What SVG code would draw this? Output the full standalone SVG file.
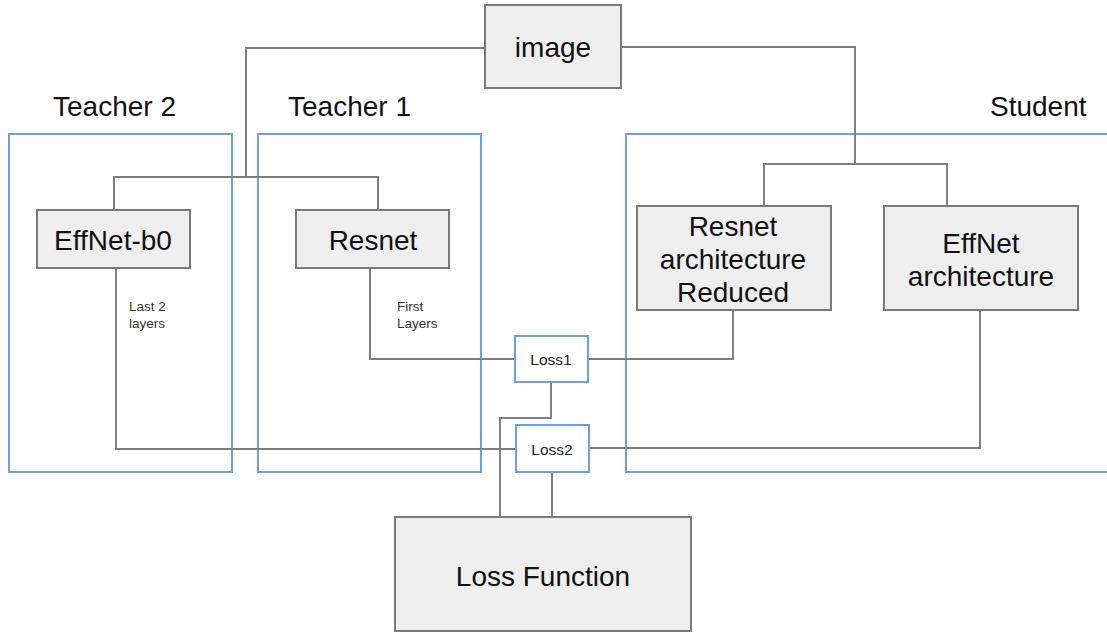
<svg xmlns="http://www.w3.org/2000/svg" width="1107" height="635" viewBox="0 0 1107 635">
<style>
.box{fill:#eeeeee;stroke:#7a7a7a;stroke-width:2}
.grp{fill:none;stroke:#6d9eeb;stroke-width:2}
.loss{fill:#ffffff;stroke:#6d9eeb;stroke-width:2}
.ln{fill:none;stroke:#7f7f7f;stroke-width:2}
text{font-family:"Liberation Sans",Arial,sans-serif;fill:#111}
.big{font-size:28px;text-anchor:middle}
.title{font-size:28px}
.sm{font-size:15.5px;fill:#222}
.tiny{font-size:13.5px;fill:#333}
</style>
<rect width="1107" height="635" fill="#ffffff"/>
<g id="groups">
<rect class="grp" x="9" y="134" width="223" height="338"/>
<rect class="grp" x="258" y="134" width="223" height="338"/>
<rect class="grp" x="626" y="134" width="490" height="338"/>
<text class="title" x="53" y="116">Teacher 2</text>
<text class="title" x="288" y="116">Teacher 1</text>
<text class="title" x="990" y="116">Student</text>
</g>
<g id="connectors">
<polyline class="ln" points="485,48 246,48 246,177"/>
<polyline class="ln" points="114,210 114,177 378,177 378,210"/>
<polyline class="ln" points="621,47 855,47 855,164"/>
<polyline class="ln" points="764,206 764,164 947,164 947,206"/>
<polyline class="ln" points="116,268 116,449 516,449"/>
<polyline class="ln" points="370,268 370,359 515,359"/>
<polyline class="ln" points="733,310 733,359 588,359"/>
<polyline class="ln" points="980,310 980,448 589,448"/>
<polyline class="ln" points="551,382 551,418 500,418 500,517"/>
<polyline class="ln" points="552,472 552,517"/>
<text class="tiny" x="129" y="311">Last 2</text>
<text class="tiny" x="129" y="328">layers</text>
<text class="tiny" x="397" y="311">First</text>
<text class="tiny" x="397" y="328">Layers</text>
</g>
<g id="image">
<rect class="box" x="485" y="5" width="136" height="83"/>
<text class="big" x="553" y="57">image</text>
</g>
<g id="effnet-b0">
<rect class="box" x="37" y="210" width="153" height="58"/>
<text class="big" x="113" y="250">EffNet-b0</text>
</g>
<g id="resnet">
<rect class="box" x="296" y="210" width="153" height="58"/>
<text class="big" x="373" y="250">Resnet</text>
</g>
<g id="resnet-reduced">
<rect class="box" x="637" y="206" width="194" height="104"/>
<text class="big" x="733" y="236">Resnet</text>
<text class="big" x="733" y="269">architecture</text>
<text class="big" x="733" y="302">Reduced</text>
</g>
<g id="effnet-arch">
<rect class="box" x="884" y="206" width="194" height="104"/>
<text class="big" x="981" y="253">EffNet</text>
<text class="big" x="981" y="286">architecture</text>
</g>
<g id="loss1">
<rect class="loss" x="515" y="336" width="73" height="46"/>
<text class="sm" x="551" y="365" text-anchor="middle">Loss1</text>
</g>
<g id="loss2">
<rect class="loss" x="516" y="425" width="73" height="47"/>
<text class="sm" x="552" y="455" text-anchor="middle">Loss2</text>
</g>
<g id="loss-function">
<rect class="box" x="395" y="517" width="296" height="114"/>
<text class="big" x="543" y="586">Loss Function</text>
</g>
</svg>
